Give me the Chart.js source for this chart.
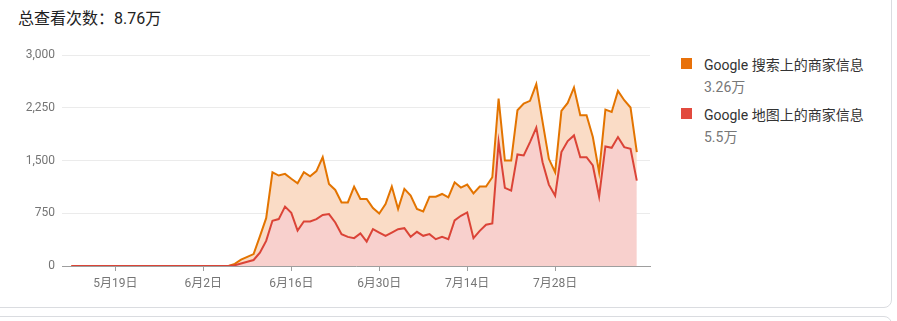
<!DOCTYPE html>
<html>
<head>
<meta charset="utf-8">
<script src="https://cdn.jsdelivr.net/npm/chart.js@4"></script>
<style>
  body { margin: 0; width: 897px; height: 321px; overflow: hidden; background: #fff; position: relative;
         font-family: Roboto, "Noto Sans CJK SC", sans-serif; }
  .card { position: absolute; left: -10px; top: -10px; width: 900px; height: 316px; border: 1px solid #dadce0; border-radius: 8px; }
  .card2 { position: absolute; left: -10px; top: 316px; width: 900px; height: 40px; border: 1px solid #dadce0; border-radius: 8px; }
  #title { position: absolute; left: 18px; top: 5px; font-size: 16px; color: #222; }
  #chartBox { position: absolute; left: 0; top: 40px; }
  .leg { position: absolute; left: 681px; }
  .leg .sq { position: absolute; left: 0; top: 0; width: 11px; height: 11px; }
  .leg .name { position: absolute; left: 23px; top: -4px; font-size: 14px; color: #333; white-space: nowrap; }
  .leg .sum { position: absolute; left: 23px; top: 18px; font-size: 14px; color: #777; white-space: nowrap; }
</style>
</head>
<body>
<div class="card"></div>
<div class="card2"></div>
<div id="title">总查看次数：8.76万</div>
<div id="chartBox"><canvas id="myChart" width="660" height="256"></canvas></div>
<div class="leg" style="top:58px"><div class="sq" style="background:#e8710a"></div><div class="name">Google 搜索上的商家信息</div><div class="sum">3.26万</div></div>
<div class="leg" style="top:108px"><div class="sq" style="background:#e24a3e"></div><div class="name">Google 地图上的商家信息</div><div class="sum">5.5万</div></div>
<script>
// x 轴刻度 (从5月12日起的天数)
const tickDays = [7, 21, 35, 49, 63, 77];
const tickLabels = ["5月19日", "6月2日", "6月16日", "6月30日", "7月14日", "7月28日"];

// 每日查看次数: 地图 (底层) 与 搜索 (叠加在上面)
const mapViews = [
  0, 0, 0, 0, 0, 0, 0, 0, 0, 0, 0, 0, 0, 0, 0, 0, 0, 0, 0, 0,
  0, 0, 0, 0, 0, 0, 10, 35, 60, 85, 190, 357, 643, 667, 845, 755, 505, 633, 633, 667,
  726, 738, 619, 453, 414, 396, 462, 348, 524, 476, 429, 476, 524, 538, 414, 486, 429, 453, 381, 414,
  381, 648, 714, 762, 395, 500, 586, 605, 1762, 1110, 1071, 1586, 1571, 1762, 1967, 1476, 1157, 1000, 1619, 1776,
  1857, 1547, 1547, 1429, 986, 1700, 1681, 1833, 1690, 1667, 1214
];
const searchViews = [
  0, 0, 0, 0, 0, 0, 0, 0, 0, 0, 0, 0, 0, 0, 0, 0, 0, 0, 0, 0,
  0, 0, 0, 0, 0, 0, 20, 55, 70, 85, 230, 323, 690, 619, 465, 485, 671, 700, 642, 683,
  821, 429, 462, 451, 490, 733, 491, 605, 300, 271, 452, 653, 286, 558, 586, 324, 347, 533, 605, 610,
  595, 542, 401, 395, 638, 629, 543, 657, 619, 390, 429, 628, 739, 586, 619, 572, 367, 333, 586, 543,
  681, 596, 596, 404, 347, 524, 509, 657, 667, 586, 405
];

const days = mapViews.map((v, i) => i);

const data = {
  labels: days,
  datasets: [
    {
      label: "Google 地图上的商家信息",
      data: mapViews,
      borderColor: "#db4437",
      backgroundColor: "#f8d0cd",
      fill: "origin",
      borderWidth: 2,
      pointRadius: 0,
      tension: 0
    },
    {
      label: "Google 搜索上的商家信息",
      data: searchViews,
      borderColor: "#e37400",
      backgroundColor: "#fadcc6",
      fill: "-1",
      borderWidth: 2,
      pointRadius: 0,
      tension: 0
    }
  ]
};

const tickFont = { family: 'Roboto, "Noto Sans CJK SC", sans-serif', size: 12 };

new Chart(document.getElementById("myChart"), {
  type: "line",
  data,
  options: {
    responsive: false,
    animation: false,
    layout: { padding: { top: 15, right: 10, left: 0, bottom: 0 } },
    plugins: { legend: { display: false }, tooltip: { enabled: false } },
    scales: {
      x: {
        type: "linear",
        min: -1.5,
        max: 92.1,
        afterBuildTicks: (s) => { s.ticks = tickDays.map(v => ({ value: v })); },
        afterFit: (s) => { s.height = 30; },
        ticks: {
          autoSkip: false,
          maxRotation: 0,
          padding: 6,
          color: "#757575",
          font: tickFont,
          callback: (v) => tickLabels[tickDays.indexOf(v)]
        },
        grid: { drawOnChartArea: false, tickLength: 5, color: "#9e9e9e" },
        border: { display: true, color: "#9e9e9e" }
      },
      y: {
        stacked: true,
        min: 0,
        max: 3000,
        afterFit: (s) => { s.width = 62; },
        ticks: {
          stepSize: 750,
          padding: 7,
          color: "#757575",
          font: tickFont,
          callback: (v) => v.toLocaleString("en-US")
        },
        grid: { color: "#ebebeb", drawTicks: false },
        border: { display: false }
      }
    }
  }
});
</script>
</body>
</html>
